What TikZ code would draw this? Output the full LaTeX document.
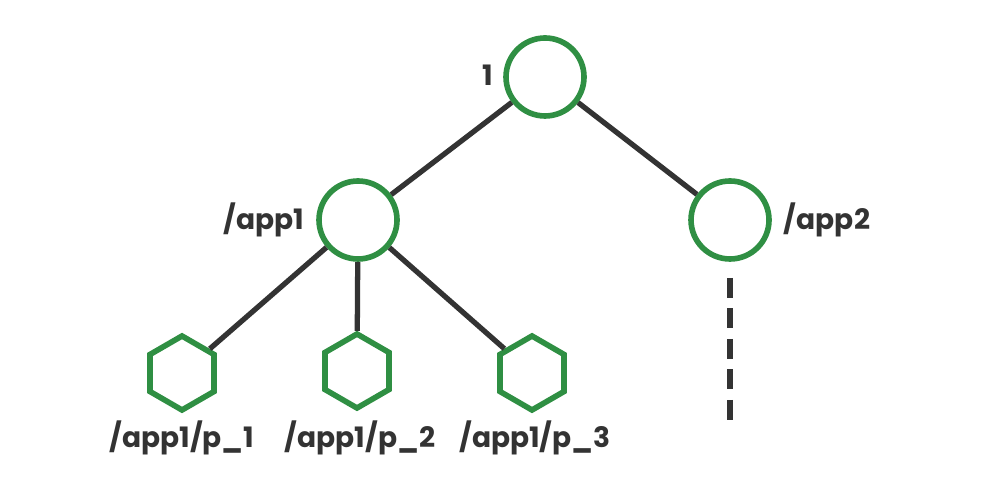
\documentclass[tikz,border=0pt]{standalone}
\usepackage{fontspec}
\setmainfont{Poppins}
\usetikzlibrary{shapes.geometric}
\definecolor{leafgreen}{HTML}{2F8F43}
\definecolor{edgegray}{HTML}{333333}
\tikzset{
  znode/.style={circle,draw=leafgreen,line width=1.6pt,minimum size=0.78cm,inner sep=0pt},
  zleaf/.style={regular polygon,regular polygon sides=6,shape border rotate=30,draw=leafgreen,line width=1.6pt,minimum size=0.74cm,inner sep=0pt},
  zlabel/.style={font=\fontsize{8}{10}\selectfont\bfseries,text=edgegray},
  zedge/.style={draw=edgegray,line width=1.5pt}
}
\begin{document}
\begin{tikzpicture}
  \useasboundingbox (0,0) rectangle (10,5);
  % znodes
  \node[znode] (root) at (5.45,4.23) {};
  \node[znode] (app1) at (3.58,2.80) {};
  \node[znode] (app2) at (7.30,2.80) {};
  \node[zleaf] (p1) at (1.82,1.27) {};
  \node[zleaf] (p2) at (3.57,1.29) {};
  \node[zleaf] (p3) at (5.32,1.27) {};
  % labels
  \node[zlabel] (lroot) at (4.88,4.25) {1};
  \node[zlabel] (lapp1) at (2.64,2.80) {/app1};
  \node[zlabel] (lapp2) at (8.27,2.80) {/app2};
  \node[zlabel] (lp1) at (1.82,0.62) {/app1/p\_1};
  \node[zlabel] (lp2) at (3.60,0.62) {/app1/p\_2};
  \node[zlabel] (lp3) at (5.35,0.62) {/app1/p\_3};
  % edges
  \draw[zedge] (root) -- (app1);
  \draw[zedge] (root) -- (app2);
  \foreach \n in {p1,p2,p3}
    \draw[zedge] (app1) -- (\n);
  \coordinate (dtop) at (7.30,2.22);
  \coordinate (dend) at (7.30,0.80);
  \draw[zedge,dash pattern=on 0.2cm off 0.105cm] (dtop) -- (dend);
\end{tikzpicture}
\end{document}
